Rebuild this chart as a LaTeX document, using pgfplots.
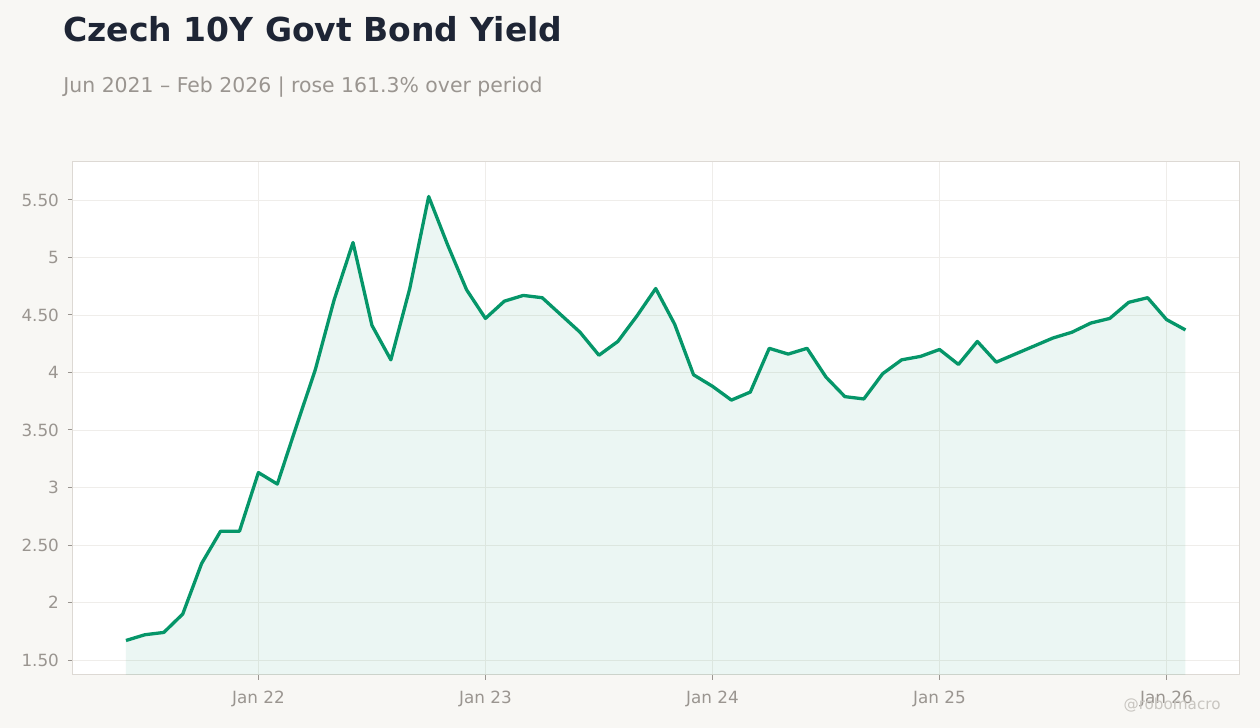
\documentclass[border=0pt]{standalone}
\usepackage{pgfplots}
\usepackage{pgfplotstable}
\pgfplotsset{compat=1.18}
\usepackage{fontspec}
\setmainfont{DejaVu Sans}
\definecolor{bgc}{HTML}{F8F7F4}
\definecolor{titlec}{HTML}{1E2535}
\definecolor{subc}{HTML}{9A9590}
\definecolor{linec}{HTML}{059669}
\definecolor{gridc}{HTML}{EFEDEA}
\definecolor{framec}{HTML}{DDD9D4}
\definecolor{wmc}{HTML}{C8C5C0}
\pgfplotstableread{
m y
0 1.67
1 1.72
2 1.74
3 1.90
4 2.34
5 2.62
6 2.62
7 3.13
8 3.03
9 3.53
10 4.02
11 4.63
12 5.13
13 4.41
14 4.11
15 4.73
16 5.53
17 5.11
18 4.72
19 4.47
20 4.62
21 4.67
22 4.65
23 4.50
24 4.35
25 4.15
26 4.27
27 4.49
28 4.73
29 4.42
30 3.98
31 3.88
32 3.76
33 3.83
34 4.21
35 4.16
36 4.21
37 3.96
38 3.79
39 3.77
40 3.99
41 4.11
42 4.14
43 4.20
44 4.07
45 4.27
46 4.09
47 4.16
48 4.23
49 4.30
50 4.35
51 4.43
52 4.47
53 4.61
54 4.65
55 4.46
56 4.37
}\data
\begin{document}
\begin{tikzpicture}
\fill[bgc] (-36.5pt,-26.5pt) rectangle (593.5pt,337.5pt);
\begin{axis}[
  at={(0pt,0pt)}, anchor=south west,
  scale only axis, width=583pt, height=256.5pt,
  xmin=-2.8, xmax=58.83, ymin=1.37, ymax=5.83,
  axis background/.style={fill=white},
  axis line style={framec, line width=0.5pt},
  xtick={7,19,31,43,55},
  xticklabels={Jan 22,Jan 23,Jan 24,Jan 25,Jan 26},
  ytick={1.5,2,2.5,3,3.5,4,4.5,5,5.5},
  yticklabels={1.50,2,2.50,3,3.50,4,4.50,5,5.50},
  tick align=outside, major tick length=2.5pt,
  tick style={subc, line width=0.5pt},
  xtick pos=bottom, ytick pos=left,
  grid=major, major grid style={gridc, line width=0.4pt},
  ticklabel style={font=\fontsize{8.4pt}{10pt}\selectfont, text=subc},
  xticklabel style={yshift=-2pt},
  yticklabel style={xshift=-1pt},
  /pgf/number format/assume math mode=true,
  clip=true,
]
\addplot[draw=none, fill=linec, fill opacity=0.08] table[x=m,y=y]{\data} \closedcycle;
\addplot[linec, line width=1.65pt, line join=round] table[x=m,y=y]{\data};
\end{axis}
\node[anchor=base west, text=titlec, font=\fontsize{16.5pt}{20pt}\selectfont\bfseries, inner sep=0pt] at (-5pt,316.5pt) {Czech 10Y Govt Bond Yield};
\node[anchor=base west, text=subc, font=\fontsize{10.2pt}{12pt}\selectfont, inner sep=0pt] at (-5pt,291pt) {Jun 2021 – Feb 2026 | rose 161.3\% over period};
\node[anchor=base east, text=wmc, font=\fontsize{7.6pt}{9pt}\selectfont, inner sep=0pt] at (574pt,-17.5pt) {@robomacro};
\end{tikzpicture}
\end{document}
